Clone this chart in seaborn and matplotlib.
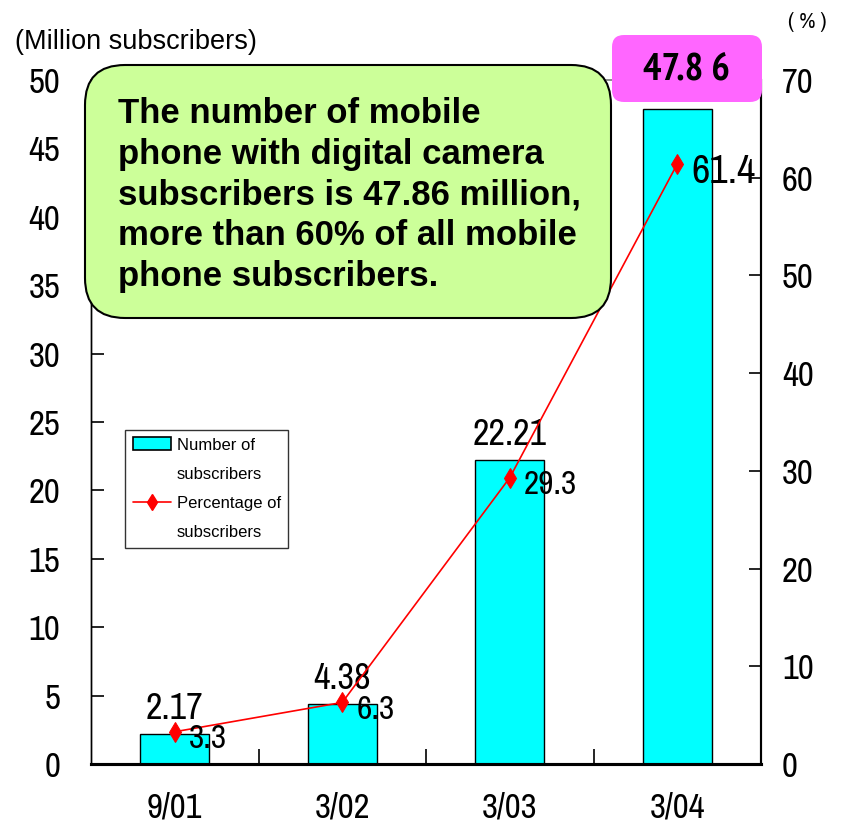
import numpy as np
import pandas as pd
import seaborn as sns
import matplotlib
matplotlib.use("Agg")
import matplotlib.pyplot as plt
from matplotlib import font_manager
from matplotlib.patches import FancyBboxPatch, Patch
from matplotlib.lines import Line2D
from matplotlib.ticker import FixedLocator

# ---- data ----
periods = ["9/01", "3/02", "3/03", "3/04"]
subscribers = [2.17, 4.38, 22.21, 47.86]      # million subscribers
percentage = [3.3, 6.3, 29.3, 61.4]           # % of all mobile subscribers
left_ticks = list(range(0, 55, 5))
right_ticks = list(range(0, 80, 10))

df = pd.DataFrame({"period": periods, "subs": subscribers, "pct": percentage})

sns.set_style("white")
fonts = font_manager.fontManager.ttflist
installed = {f.name for f in fonts}


def weight_num(w):
    return w if isinstance(w, (int, float)) else font_manager.weight_dict.get(w, 400)


def first_font(*names, bold=False):
    for n in names:
        if n not in installed:
            continue
        if not bold or any(f.name == n and weight_num(f.weight) >= 700
                           and f.style == "normal" for f in fonts):
            return n
    return "DejaVu Sans"


NARROW_NAMES = ("Liberation Sans Narrow", "Arial Narrow", "Archivo Narrow",
                "PT Sans Narrow", "Roboto Condensed", "Liberation Sans")
NARROW = first_font(*NARROW_NAMES)
NARROW_BOLD = first_font(*NARROW_NAMES, bold=True)
REGULAR = first_font("Liberation Sans", "Arimo", "DejaVu Sans")
plt.rcParams["font.family"] = [NARROW, "DejaVu Sans"]
plt.rcParams.update({"text.color": "black", "xtick.color": "black",
                     "ytick.color": "black", "axes.labelcolor": "black"})

W, H = 843, 826
fig = plt.figure(figsize=(W / 100, H / 100), dpi=100)
fig.patch.set_facecolor("white")


def px(x, y):
    """pixel position measured from the top-left corner -> figure inches"""
    return x / 100, (H - y) / 100


# axes frame in pixels
L, R, T, B = 91, 761, 80, 764
ax = fig.add_axes([L / W, 1 - B / H, (R - L) / W, (B - T) / H])
ax2 = ax.twinx()

# bars: number of subscribers
sns.barplot(data=df, x="period", y="subs", ax=ax, color="#00FFFF",
            saturation=1, edgecolor="black", linewidth=1.0, width=0.41,
            errorbar=None, zorder=2)

# line: percentage of subscribers
sns.lineplot(x=np.arange(len(periods)), y=df["pct"], ax=ax2, color="red",
             linewidth=1.2, marker="d", markersize=10, markeredgecolor="red",
             legend=False, zorder=3)

ax.set_xlim(-0.5, len(periods) - 0.5)
ax2.set_xlim(-0.5, len(periods) - 0.5)
ax.set_ylim(0, 50)
ax2.set_ylim(0, 70)
ax.set_xlabel("")
ax.set_ylabel("")
ax2.set_ylabel("")

# ticks
ax.yaxis.set_major_locator(FixedLocator(left_ticks))
ax2.yaxis.set_major_locator(FixedLocator(right_ticks))
ax.set_yticklabels([str(t) for t in left_ticks])
ax2.set_yticklabels([str(t) for t in right_ticks])
ax.tick_params(axis="y", direction="in", length=9, width=1.2, pad=22,
               labelsize=25, left=True, right=False)
ax2.tick_params(axis="y", direction="in", length=9, width=1.2, pad=15,
                labelsize=25, right=True)
ax.xaxis.set_minor_locator(FixedLocator(np.arange(0.5, len(periods) - 0.5, 1)))
ax.tick_params(axis="x", which="major", length=0, pad=20, labelsize=25)
ax.tick_params(axis="x", which="minor", direction="in", length=11, width=1.2,
               bottom=True)
ax2.tick_params(axis="x", which="both", length=0)

# frame
for a in (ax, ax2):
    a.spines["top"].set_color("#8c8c8c")
    a.spines["top"].set_linewidth(1.2)
    a.spines["left"].set_color("black")
    a.spines["left"].set_linewidth(1.0)
    a.spines["right"].set_color("black")
    a.spines["right"].set_linewidth(1.5)
    a.spines["bottom"].set_color("black")
    a.spines["bottom"].set_linewidth(2.2)
ax.set_facecolor("none")
ax2.set_facecolor("none")

# value labels on the bars (last one goes in the highlight box)
for i, v in enumerate(subscribers[:-1]):
    ax.annotate(f"{v:.2f}", (i, v), xytext=(0, 11), textcoords="offset points",
                ha="center", va="baseline", fontsize=26, zorder=4)

# percentage labels next to the markers
for i, p in enumerate(percentage):
    last = i == len(percentage) - 1
    ax2.annotate(f"{p}", (i, p), xytext=(10, -14 if last else -12),
                 textcoords="offset points", ha="left", va="baseline",
                 fontsize=29 if last else 24, zorder=4)

# legend: handle sits on the first line of each two-line label
blank = Line2D([], [], alpha=0)
handles = [Patch(facecolor="#00FFFF", edgecolor="black", linewidth=1.2), blank,
           Line2D([], [], color="red", marker="d", markersize=8, linewidth=1.2),
           blank]
labels = ["Number of", "subscribers", "Percentage of", "subscribers"]
leg = ax2.legend(handles, labels, loc="upper left",
                 bbox_to_anchor=((125 - L) / (R - L), (B - 430) / (B - T)),
                 borderaxespad=0, frameon=True, fancybox=False,
                 prop={"family": REGULAR, "size": 12},
                 handlelength=2.3, handleheight=0.8, handletextpad=0.35,
                 labelspacing=0.84, borderpad=0.45)
leg.get_frame().set_edgecolor("black")
leg.get_frame().set_linewidth(1.0)
leg.set_zorder(6)

# axis unit captions
fig.text(15 / W, 1 - 42 / H, "(Million subscribers)", fontsize=19.5,
         family=[REGULAR], ha="left", va="center")
fig.text(807 / W, 1 - 22 / H, "( % )", fontsize=16, ha="center", va="center")

# green call-out box
gx0, gy0, gx1, gy1 = 85, 65, 611, 318
green = FancyBboxPatch(px(gx0, gy1), (gx1 - gx0) / 100, (gy1 - gy0) / 100,
                       boxstyle="round,pad=0,rounding_size=0.4",
                       transform=fig.dpi_scale_trans, facecolor="#CCFF99",
                       edgecolor="black", linewidth=1.5, zorder=10)
fig.add_artist(green)
msg = ("The number of mobile\nphone with digital camera\n"
       f"subscribers is {subscribers[-1]:.2f} million,\n"
       "more than 60% of all mobile\nphone subscribers.")
fig.text(118 / W, 1 - 195 / H, msg, fontsize=25, fontweight="bold",
         family=[REGULAR], ha="left", va="center", linespacing=1.29, zorder=11)

# magenta highlight with the latest value
mx0, my0, mx1, my1 = 612, 35, 762, 102
pink = FancyBboxPatch(px(mx0, my1), (mx1 - mx0) / 100, (my1 - my0) / 100,
                      boxstyle="round,pad=0,rounding_size=0.12",
                      transform=fig.dpi_scale_trans, facecolor="#FF66FF",
                      edgecolor="none", zorder=10)
fig.add_artist(pink)
latest = f"{subscribers[-1]:.2f}"
fig.text(686 / W, 1 - 70 / H, latest[:-1] + " " + latest[-1], fontsize=28,
         fontweight="bold", family=[NARROW_BOLD, "DejaVu Sans"],
         ha="center", va="center", zorder=11)

fig.savefig("out.png", dpi=100, facecolor="white")
